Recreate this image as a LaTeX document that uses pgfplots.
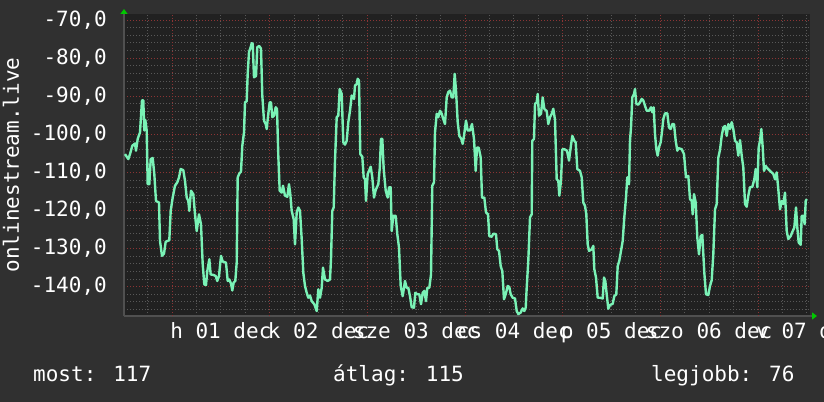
\documentclass[border=0pt]{standalone}
\usepackage{fontspec}
\setmainfont{DejaVu Sans Mono}
\usepackage{pgfplots}
\pgfplotsset{compat=1.18}
\usetikzlibrary{arrows.meta}
\definecolor{outerbg}{RGB}{48,48,48}
\definecolor{plotbg}{RGB}{33,33,33}
\definecolor{mingrid}{RGB}{88,88,88}
\definecolor{majgrid}{RGB}{140,52,52}
\definecolor{axisgray}{RGB}{80,80,80}
\definecolor{arrowgreen}{RGB}{0,200,0}
\definecolor{linec}{RGB}{122,242,182}
\newcommand{\lblfont}{\fontsize{21bp}{25bp}\selectfont}
\begin{document}
\begin{tikzpicture}
\fill[outerbg] (0,0) rectangle (824bp,402bp);
\useasboundingbox (0,0) rectangle (824bp,402bp);
\begin{axis}[
  at={(124bp,86bp)}, anchor=south west,
  width=686bp, height=302bp, scale only axis,
  xmin=124, xmax=810, ymin=-147.7, ymax=-68.4,
  axis x line=bottom, axis y line=left,
  x axis line style={draw=axisgray, line width=1.2bp, -{Triangle[length=5bp,width=7bp,color=arrowgreen]}, shorten >=-7bp},
  y axis line style={draw=axisgray, line width=1.2bp, -{Triangle[length=5bp,width=7bp,color=arrowgreen]}, shorten >=-5bp},
  axis background/.style={fill=plotbg},
  xtick={220.83,318.5,416.17,513.83,611.5,709.17,806.83},
  xticklabels={h 01 dec,k 02 dec,sze 03 dec,cs 04 dec,p 05 dec,szo 06 dec,v 07 dec},
  minor xtick={147.58,196.42,220.83,245.25,294.08,318.5,342.92,391.75,416.17,440.58,489.42,513.83,538.25,587.08,611.5,635.92,684.75,709.17,733.58,782.42,806.83},
  extra x ticks={172,269.67,367.33,465,562.67,660.33,758},
  extra x tick labels={},
  extra x tick style={grid=major},
  ytick={-140,-130,-120,-110,-100,-90,-80,-70},
  yticklabels={{-140,0},{-130,0},{-120,0},{-110,0},{-100,0},{-90,0},{-80,0},{-70,0}},
  minor ytick={-146,-144,-142,-138,-136,-134,-132,-128,-126,-124,-122,-118,-116,-114,-112,-108,-106,-104,-102,-98,-96,-94,-92,-88,-86,-84,-82,-78,-76,-74,-72},
  ymajorgrids, yminorgrids, xminorgrids,
  major grid style={draw=majgrid, line width=1bp, dash pattern=on 1bp off 2bp},
  minor grid style={draw=mingrid, line width=1bp, dash pattern=on 1bp off 2bp},
  major tick length=0pt, minor tick length=0pt,
  tick label style={font=\lblfont, text=white, inner sep=0pt},
  xticklabel style={anchor=base, yshift=-23bp},
  yticklabel style={anchor=east, xshift=-17bp},
  ylabel={onlinestream.live},
  ylabel style={at={(axis description cs:-0.1531,0.5)}, anchor=base, font=\lblfont, text=white, inner sep=0pt},
]
\addplot[linec, line width=2.4bp, line join=round, mark=none] coordinates {
(125,-105.2)(128.3,-106.5)(130,-105.2)(132.3,-103.0)(135,-102.4)(136,-104.3)(137.7,-101.2)(140,-99.5)(142,-91.1)(143.3,-91.1)(144.3,-99.0)(145.3,-96.2)(146.7,-99.0)(147.7,-113.1)(149.3,-113.1)(150.7,-106.5)(152.7,-106.2)(154.3,-110.4)(156,-117.5)(159,-117.9)(160,-128.0)(162,-131.9)(164,-131.3)(165.7,-128.2)(169.3,-127.8)(170.7,-120.1)(172.7,-116.6)(175,-113.5)(177.3,-112.6)(179,-111.3)(180.7,-109.1)(183.3,-109.4)(185,-112.2)(186.7,-116.6)(188.3,-117.5)(189.3,-120.1)(191,-114.8)(193.3,-115.7)(195,-121.0)(196.7,-125.4)(199,-121.0)(201,-123.6)(202.7,-134.1)(204.3,-139.4)(206,-139.6)(207.3,-135.9)(209.3,-132.8)(210.7,-136.8)(213.3,-136.9)(215.7,-137.2)(217.3,-138.5)(219,-137.2)(221,-131.9)(222.7,-133.4)(226,-133.7)(227.7,-138.5)(229.3,-138.1)(231,-139.2)(232.3,-141.0)(233.7,-138.9)(235.3,-138.5)(236.7,-133.7)(237.7,-111.3)(239.3,-110.3)(241,-109.8)(242.3,-103.0)(244,-99.5)(245,-91.6)(246.7,-91.3)(247.7,-84.1)(249,-78.4)(250.7,-77.1)(251.7,-76.1)(252.7,-76.2)(254,-85.0)(256,-84.7)(257.3,-77.1)(259.3,-76.8)(261,-77.5)(262.3,-89.8)(264,-96.4)(265.7,-97.3)(266.7,-98.6)(268.3,-94.6)(269.7,-91.6)(271,-91.6)(272.3,-95.5)(274,-95.1)(275.7,-92.9)(277,-93.3)(278.3,-105.6)(279.7,-114.8)(281.7,-115.3)(283,-113.5)(285,-116.1)(287.3,-116.4)(289,-113.1)(290.3,-115.7)(291.7,-120.1)(293.7,-122.3)(295,-128.9)(296.7,-120.5)(298.3,-119.2)(300,-120.1)(301.7,-127.5)(303.3,-136.3)(305,-139.8)(306.7,-141.6)(308.3,-142.9)(310,-142.3)(311.7,-143.8)(314.3,-144.6)(316.7,-146.4)(318.3,-140.7)(320,-142.9)(321.7,-140.3)(323,-135.0)(325,-138.1)(327.7,-138.5)(330,-138.1)(331,-132.8)(332.3,-120.1)(333.7,-119.2)(335,-106.9)(336.7,-95.5)(338.3,-95.1)(339.7,-88.1)(341.7,-89.4)(343.3,-102.1)(345,-102.7)(346.7,-101.7)(348.3,-96.8)(350,-93.8)(351.7,-89.8)(354,-90.7)(355,-87.2)(356.7,-86.8)(357.7,-85.4)(359,-85.9)(360.3,-105.2)(362.3,-105.9)(363.7,-111.3)(365,-111.8)(366,-117.5)(367.7,-110.4)(369,-109.6)(370.7,-108.5)(372.3,-111.3)(374,-116.6)(375.7,-114.6)(378.3,-113.1)(379.7,-109.1)(381,-101.2)(382.3,-101.2)(383.7,-109.1)(385.7,-114.8)(387.7,-116.6)(389,-113.9)(390.7,-113.9)(391.7,-125.4)(393.3,-121.4)(395.7,-121.4)(397.3,-126.2)(399,-129.7)(400.7,-139.8)(402.7,-142.5)(405,-138.5)(406.7,-140.3)(408.3,-140.3)(410,-142.5)(411.7,-145.4)(414,-145.5)(415.3,-141.6)(417.3,-142.0)(419.3,-142.0)(421,-144.6)(422.7,-141.6)(424.3,-141.1)(426,-143.8)(427.3,-140.3)(429.3,-140.3)(431,-136.8)(432.3,-113.5)(434,-112.6)(435,-99.5)(436.7,-94.6)(438.3,-95.5)(440,-93.8)(441.7,-94.6)(443.3,-96.0)(445,-97.3)(446.7,-90.3)(448.3,-88.9)(450,-88.5)(451.7,-90.3)(453.3,-90.3)(454.7,-84.1)(456,-88.5)(457.7,-96.8)(459.3,-100.4)(461.3,-101.2)(462.7,-102.5)(464,-100.4)(466,-96.4)(467.7,-99.0)(470,-99.0)(472,-97.3)(474,-101.2)(475.7,-109.6)(477,-103.5)(478.7,-103.5)(480.7,-106.1)(482,-116.6)(484.3,-116.6)(486,-120.5)(488,-121.0)(489.3,-126.7)(491.7,-126.9)(493.3,-126.1)(496,-126.2)(497.3,-130.2)(499,-130.6)(500.7,-134.6)(502.3,-135.9)(504,-143.3)(505.7,-142.0)(507.7,-139.8)(509.3,-140.1)(510.7,-142.0)(512.7,-142.9)(515,-143.1)(516.7,-146.4)(518.3,-147.2)(520.7,-146.8)(522.7,-145.7)(524.3,-146.4)(525.7,-145.5)(526.7,-140.3)(528.3,-133.2)(530,-121.8)(531.7,-121.0)(532.3,-101.7)(534,-101.2)(535,-92.0)(536.7,-91.6)(537.7,-89.4)(539,-95.1)(541,-94.6)(542.7,-90.3)(544.3,-93.3)(546.7,-93.9)(548.3,-97.3)(550,-95.5)(551.7,-94.6)(553.3,-93.3)(555,-96.2)(556.7,-111.8)(558.3,-112.2)(559.3,-116.1)(561,-112.2)(562.3,-103.9)(564.3,-103.9)(567,-104.3)(569,-106.9)(570.7,-103.4)(572.3,-100.4)(574.3,-101.7)(575.7,-102.1)(577.3,-109.1)(580,-109.6)(581.7,-111.3)(583.3,-117.9)(585,-118.8)(586.3,-121.0)(587.7,-128.9)(589,-130.6)(591.7,-130.2)(593.3,-129.3)(594.3,-135.4)(596,-137.6)(597.7,-142.9)(600,-142.9)(602.7,-143.1)(604,-137.6)(605.3,-138.5)(606.7,-142.0)(608.3,-145.8)(610,-144.8)(612.7,-144.5)(614.3,-142.5)(616.3,-142.0)(617.7,-134.6)(619.3,-133.2)(621,-130.6)(622.7,-128.0)(624.3,-121.8)(626,-116.6)(627.3,-111.3)(629,-113.1)(630,-101.7)(631,-98.2)(632.3,-90.3)(634,-89.4)(635,-88.1)(636.3,-92.0)(638.3,-92.2)(640,-91.6)(641.7,-90.7)(643.3,-91.1)(645,-92.5)(646.7,-93.8)(649,-93.8)(651,-92.9)(652.3,-94.2)(653.7,-92.9)(655,-99.9)(656.3,-103.9)(657.7,-105.6)(659,-103.4)(660.7,-102.1)(662.3,-98.6)(663.3,-96.0)(665,-94.5)(667.3,-94.5)(669,-98.2)(670.7,-98.6)(672.3,-97.3)(674,-97.3)(675.7,-101.7)(677.3,-104.3)(678.3,-103.6)(681.7,-103.9)(684,-105.2)(686,-111.3)(688.3,-110.9)(690,-117.0)(691.7,-117.5)(692.7,-121.0)(694,-115.7)(695.7,-117.9)(697.3,-127.1)(699,-131.5)(700.7,-126.7)(702.3,-126.4)(704.3,-136.3)(706,-142.0)(708.3,-142.2)(710,-139.8)(711.7,-138.3)(713.3,-131.5)(715,-119.7)(716.7,-118.3)(718.3,-106.1)(720,-104.1)(721.7,-100.4)(723.3,-98.2)(725,-97.8)(726.7,-100.4)(728.3,-97.3)(730,-98.6)(731.7,-96.8)(733.3,-98.6)(735,-101.7)(736.7,-102.1)(738.3,-105.6)(740,-101.5)(741.7,-105.6)(743.3,-108.7)(745,-118.3)(746.7,-119.0)(748.3,-116.1)(750,-113.9)(752.3,-113.8)(754.3,-111.8)(755.7,-109.1)(757.3,-113.9)(758.7,-103.4)(760,-101.7)(761.3,-98.6)(762.7,-103.4)(764,-109.6)(765.7,-108.3)(767.3,-108.9)(770,-109.6)(773.3,-110.4)(775,-111.8)(776.7,-110.0)(778.3,-114.4)(780,-119.7)(781.7,-117.5)(783.3,-118.3)(785,-115.3)(786.7,-125.4)(788.3,-127.5)(790.7,-126.7)(792.7,-125.4)(794.3,-124.5)(796,-119.2)(797.3,-124.5)(798.7,-128.4)(800.7,-129.0)(801.7,-121.4)(803.3,-121.4)(804.7,-123.6)(805.7,-117.5)(806.7,-117.0)
};
\end{axis}
\node[anchor=base west, inner sep=0pt, text=white, font=\lblfont] at (33bp,21bp) {most: 117};
\node[anchor=base west, inner sep=0pt, text=white, font=\lblfont] at (333bp,21bp) {átlag: 115};
\node[anchor=base west, inner sep=0pt, text=white, font=\lblfont] at (651bp,21bp) {legjobb: 76};
\end{tikzpicture}
\end{document}
